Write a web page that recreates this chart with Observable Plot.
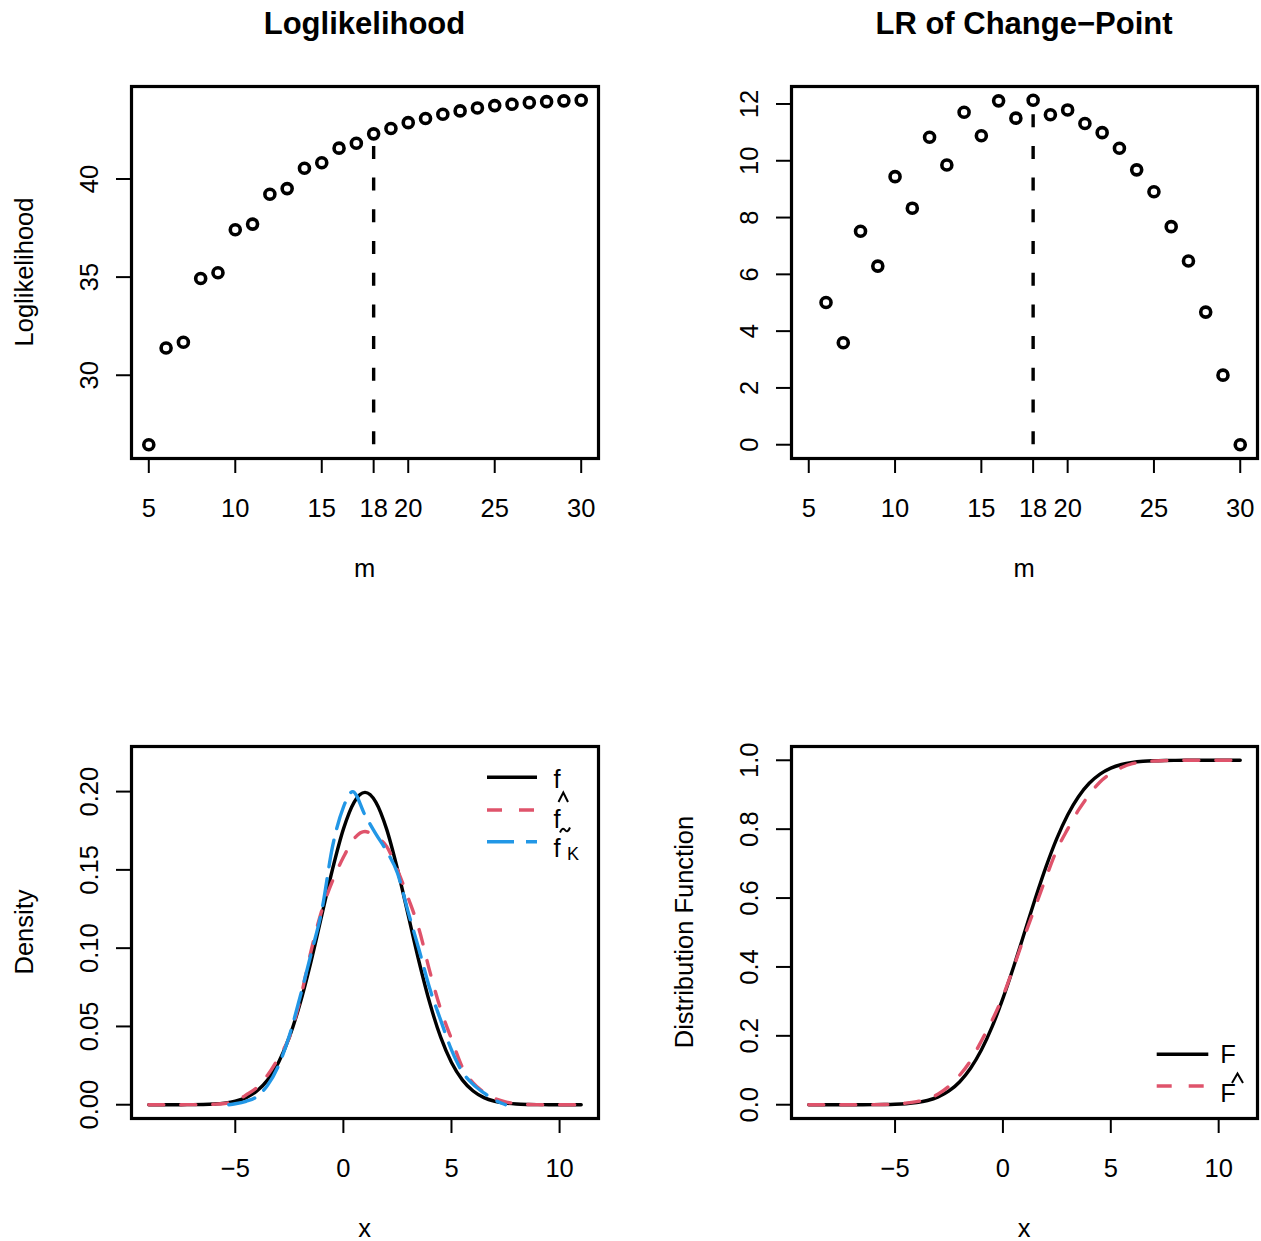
<!DOCTYPE html>
<html><head><meta charset="utf-8">
<script src="https://cdn.jsdelivr.net/npm/d3@7"></script>
<script src="https://cdn.jsdelivr.net/npm/@observablehq/plot@0.6"></script>
<style>
body{margin:0;background:#fff;}
#wrap{position:relative;width:1261px;height:1241px;background:#fff;overflow:hidden;}
#wrap svg{position:absolute;}
</style></head><body><div id="wrap"></div>
<script>
// ---------- data ----------
const mLL = [5,6,7,8,9,10,11,12,13,14,15,16,17,18,19,20,21,22,23,24,25,26,27,28,29,30];
const loglik = [26.46,31.39,31.68,34.93,35.22,37.41,37.70,39.22,39.51,40.55,40.83,41.57,41.82,42.30,42.57,42.87,43.08,43.30,43.47,43.62,43.74,43.81,43.89,43.94,43.98,44.01];
const mLR = [6,7,8,9,10,11,12,13,14,15,16,17,18,19,20,21,22,23,24,25,26,27,28,29,30];
const lr = [5.01,3.59,7.52,6.29,9.44,8.33,10.83,9.85,11.71,10.88,12.11,11.50,12.13,11.62,11.79,11.31,10.99,10.44,9.68,8.91,7.68,6.47,4.67,2.45,0.00];
const changePoint = 18;
const mTicks = [5,10,15,18,20,25,30];

const xGrid = [-9,-8.5,-8,-7.5,-7,-6.5,-6,-5.5,-5,-4.5,-4,-3.5,-3,-2.5,-2,-1.5,-1,-0.5,0,0.5,1,1.5,2,2.5,3,3.5,4,4.5,5,5.5,6,6.5,7,7.5,8,8.5,9,9.5,10,10.5,11];
const fTrue = [0.0000007,0.0000025,0.000008,0.000024,0.000067,0.000176,0.00044,0.00102,0.00222,0.00455,0.00876,0.01588,0.02700,0.04314,0.06476,0.09132,0.12098,0.15057,0.17603,0.19333,0.19947,0.19333,0.17603,0.15057,0.12098,0.09132,0.06476,0.04314,0.02700,0.01588,0.00876,0.00455,0.00222,0.00102,0.00044,0.000176,0.000067,0.000024,0.000008,0.0000025,0.0000007];
const fHat = [0,0,0,0.00002,0.00005,0.0001,0.0003,0.0008,0.0022,0.0062,0.0110,0.0190,0.0300,0.0430,0.0670,0.0980,0.1240,0.1430,0.1580,0.1700,0.1745,0.1710,0.1650,0.1500,0.1320,0.1120,0.0850,0.0610,0.0420,0.0240,0.0140,0.0080,0.0040,0.0018,0.0007,0.0002,0.00005,0,0,0,0];
const xK = [-5.3,-5,-4.5,-4,-3.5,-3,-2.5,-2,-1.5,-1,-0.5,0,0.43,1,1.5,2,2.5,3,3.5,4,4.5,5,5.5,6,6.5,7,7.5];
const fK = [0,0.0006,0.0022,0.0052,0.0125,0.0250,0.0440,0.0690,0.0960,0.1240,0.1650,0.1900,0.2000,0.1850,0.1730,0.1620,0.1480,0.1230,0.0990,0.0740,0.0540,0.0350,0.0210,0.0130,0.0075,0.0030,0];
const FTrue = [0.0000003,0.000001,0.0000034,0.0000107,0.0000317,0.0000884,0.000233,0.000577,0.00135,0.00298,0.00621,0.01222,0.02275,0.04006,0.06681,0.10565,0.15866,0.22663,0.30854,0.40129,0.5,0.59871,0.69146,0.77337,0.84134,0.89435,0.93319,0.95994,0.97725,0.98778,0.99379,0.99702,0.99865,0.99942,0.99977,0.99991,0.99997,0.99999,1,1,1];
const FHat = [0,0,0,0,0.00005,0.0001,0.0003,0.0008,0.002,0.0045,0.009,0.016,0.031,0.054,0.086,0.128,0.185,0.245,0.315,0.40,0.49,0.575,0.66,0.74,0.80,0.855,0.90,0.937,0.962,0.979,0.990,0.995,0.998,0.999,1,1,1,1,1,1,1];
const xTicks = [-5,0,5,10];
const densTicks = [0,0.05,0.10,0.15,0.20];
const cdfTicks = [0,0.2,0.4,0.6,0.8,1.0];

// ---------- helpers ----------
const FONT = "'Liberation Sans', Arial, Helvetica, sans-serif";
const RED = "#DF536B", BLUE = "#2297E6";
const FS = 25.5;
const LW = 3.4;
function rRange(vals){const [a,b]=d3.extent(vals);const p=(b-a)*0.04;return [a-p,b+p];}
const minusFmt = d => d < 0 ? "\u2212" + Math.abs(d) : String(d);
const wrap = document.getElementById("wrap");

function panel(o){
  const svg = Plot.plot({
    width:o.width, height:o.height,
    marginLeft:o.ml, marginRight:o.mr, marginTop:o.mt, marginBottom:o.mb,
    x:{domain:o.xDomain, label:null},
    y:{domain:o.yDomain, label:null},
    style:{fontFamily:FONT, fontSize:FS+"px", color:"black", background:"white", overflow:"visible"},
    marks:[
      ...o.marks,
      Plot.axisX({ticks:o.xTicks, tickFormat:o.xFmt, tickSize:15, tickPadding:25, strokeWidth:2, label:null}),
      Plot.axisY({ticks:o.yTicks, tickFormat:o.yFmt, tickSize:15, tickPadding:19, tickRotate:-90, strokeWidth:2, label:null}),
      Plot.frame({stroke:"black", strokeWidth:3.2})
    ]
  });
  svg.style.left = o.left+"px"; svg.style.top = o.top+"px";
  wrap.appendChild(svg);
  const s = d3.select(svg);
  const cx = o.ml + (o.width - o.ml - o.mr)/2;
  const cy = o.mt + (o.height - o.mt - o.mb)/2;
  if (o.title) s.append("text").attr("x",cx).attr("y",34).attr("text-anchor","middle")
      .attr("font-weight","bold").attr("font-size",31).attr("font-family",FONT).text(o.title);
  s.append("text").attr("x",cx).attr("y",o.xlabY).attr("text-anchor","middle")
      .attr("font-size",FS).attr("font-family",FONT).text(o.xlab);
  if (o.ylab) s.append("text").attr("transform",`translate(${o.ml-98},${cy}) rotate(-90)`)
      .attr("text-anchor","middle").attr("font-size",FS).attr("font-family",FONT).text(o.ylab);
  return s;
}

// ---------- top-left: Loglikelihood ----------
const llData = mLL.map((m,i)=>({m, v:loglik[i]}));
const cpLL = [{m:changePoint, lo:d3.min(loglik), hi:loglik[mLL.indexOf(changePoint)]}];
panel({left:0, top:0, width:630, height:620, ml:131, mr:32, mt:86, mb:162,
  xDomain:[4,31], yDomain:rRange(loglik), xTicks:mTicks, yTicks:[30,35,40],
  xFmt:d=>String(d), yFmt:d=>String(d),
  title:"Loglikelihood", xlab:"m", xlabY:577, ylab:"Loglikelihood",
  marks:[
    Plot.dot(llData,{x:"m", y:"v", r:5.0, stroke:"black", strokeWidth:3.6, fill:"none"}),
    Plot.ruleX(cpLL,{x:"m", y1:"lo", y2:"hi", stroke:"black", strokeWidth:LW, strokeDasharray:"13,18.7"})
  ]});

// ---------- top-right: LR of change-point ----------
const lrData = mLR.map((m,i)=>({m, v:lr[i]}));
const cpLR = [{m:changePoint, lo:d3.min(lr), hi:lr[mLR.indexOf(changePoint)]}];
panel({left:630, top:0, width:631, height:620, ml:161, mr:4, mt:86, mb:162,
  xDomain:[4,31], yDomain:rRange(lr), xTicks:mTicks, yTicks:[0,2,4,6,8,10,12],
  xFmt:d=>String(d), yFmt:d=>String(d),
  title:"LR of Change\u2212Point", xlab:"m", xlabY:577, ylab:null,
  marks:[
    Plot.dot(lrData,{x:"m", y:"v", r:5.0, stroke:"black", strokeWidth:3.6, fill:"none"}),
    Plot.ruleX(cpLR,{x:"m", y1:"lo", y2:"hi", stroke:"black", strokeWidth:LW, strokeDasharray:"13,18.7"})
  ]});

// ---------- bottom-left: densities ----------
const dTrue = xGrid.map((x,i)=>({x, y:fTrue[i]}));
const dHat = xGrid.map((x,i)=>({x, y:fHat[i]}));
const dK = xK.map((x,i)=>({x, y:fK[i]}));
const bl = panel({left:0, top:620, width:630, height:621, ml:131, mr:32, mt:126, mb:123,
  xDomain:rRange(xGrid), yDomain:rRange([0,0.22]), xTicks:xTicks, yTicks:densTicks,
  xFmt:minusFmt, yFmt:d3.format(".2f"),
  title:null, xlab:"x", xlabY:617, ylab:"Density",
  marks:[
    Plot.line(dTrue,{x:"x", y:"y", stroke:"black", strokeWidth:LW, curve:"monotone-x"}),
    Plot.line(dHat,{x:"x", y:"y", stroke:RED, strokeWidth:LW, strokeDasharray:"15,17", curve:"monotone-x"}),
    Plot.line(dK,{x:"x", y:"y", stroke:BLUE, strokeWidth:LW, strokeDasharray:"27,12", curve:"monotone-x"})
  ]});
// legend (bottom-left); accents drawn as strokes, as R's plotmath does
{
  const g = bl.append("g").attr("font-family",FONT).attr("font-size",FS);
  g.append("line").attr("x1",487).attr("x2",537).attr("y1",157.3).attr("y2",157.3).attr("stroke","black").attr("stroke-width",LW);
  g.append("line").attr("x1",487).attr("x2",537).attr("y1",190).attr("y2",190).attr("stroke",RED).attr("stroke-width",LW).attr("stroke-dasharray","15,17");
  g.append("line").attr("x1",487).attr("x2",537).attr("y1",221.7).attr("y2",221.7).attr("stroke",BLUE).attr("stroke-width",LW).attr("stroke-dasharray","27,12");
  g.append("text").attr("x",557).attr("y",168).text("f");
  g.append("path").attr("d","M558.5,182 L563.3,172.5 L568,182").attr("fill","none").attr("stroke","black").attr("stroke-width",2);
  g.append("text").attr("x",557).attr("y",208).text("f");
  g.append("path").attr("d","M560,212.5 Q562.5,206.5 565,210 T570,207.5").attr("fill","none").attr("stroke","black").attr("stroke-width",2);
  const t3 = g.append("text").attr("x",557).attr("y",236.5);
  t3.append("tspan").text("f");
  t3.append("tspan").attr("x",573).attr("y",240).attr("font-size",18).text("K");
}

// ---------- bottom-right: distribution functions ----------
const cTrue = xGrid.map((x,i)=>({x, y:FTrue[i]}));
const cHat = xGrid.map((x,i)=>({x, y:FHat[i]}));
const br = panel({left:630, top:620, width:631, height:621, ml:161, mr:4, mt:126, mb:123,
  xDomain:rRange(xGrid), yDomain:rRange([0,1]), xTicks:xTicks, yTicks:cdfTicks,
  xFmt:minusFmt, yFmt:d3.format(".1f"),
  title:null, xlab:"x", xlabY:617, ylab:"Distribution Function",
  marks:[
    Plot.line(cTrue,{x:"x", y:"y", stroke:"black", strokeWidth:LW, curve:"monotone-x"}),
    Plot.line(cHat,{x:"x", y:"y", stroke:RED, strokeWidth:LW, strokeDasharray:"15,17", curve:"monotone-x"})
  ]});
{
  const g = br.append("g").attr("font-family",FONT).attr("font-size",FS);
  g.append("line").attr("x1",526.7).attr("x2",578.3).attr("y1",434.3).attr("y2",434.3).attr("stroke","black").attr("stroke-width",LW);
  g.append("line").attr("x1",526.7).attr("x2",578.3).attr("y1",466).attr("y2",466).attr("stroke",RED).attr("stroke-width",LW).attr("stroke-dasharray","15,17");
  g.append("text").attr("x",598).attr("y",443.3).text("F");
  g.append("path").attr("d","M602,463 L607.5,453.5 L613,463").attr("fill","none").attr("stroke","black").attr("stroke-width",2);
  g.append("text").attr("x",598).attr("y",481.7).text("F");
}
</script></body></html>
